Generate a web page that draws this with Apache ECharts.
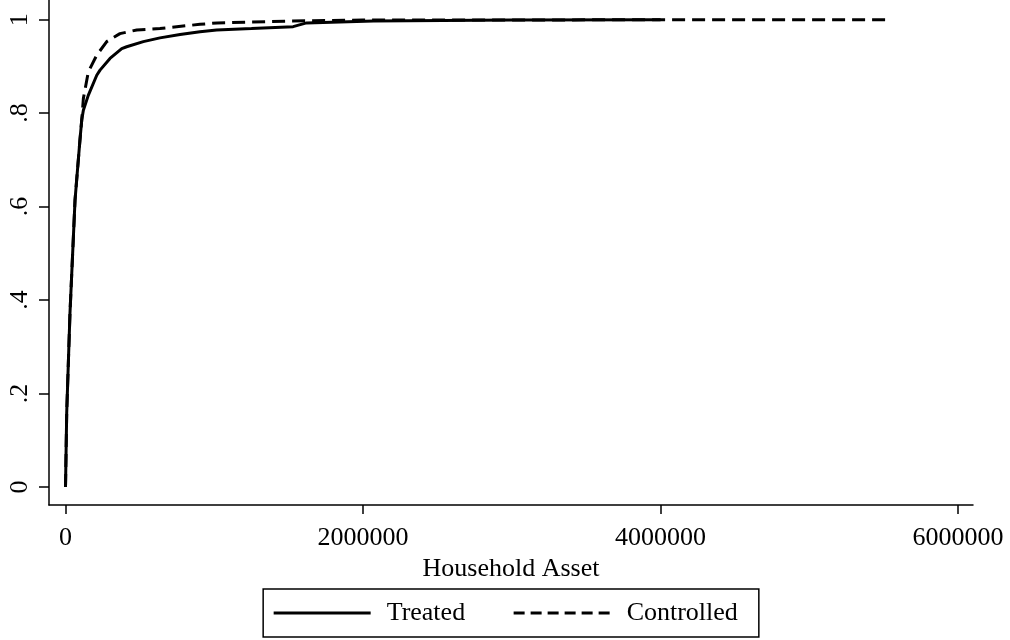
<!DOCTYPE html>
<html>
<head>
<meta charset="utf-8">
<script src="https://cdn.jsdelivr.net/npm/echarts@6/dist/echarts.min.js"></script>
<style>
  html, body { margin: 0; padding: 0; background: #fff; }
  #chart { width: 1010px; height: 640px; }
</style>
</head>
<body>
<div id="chart"></div>
<script>
// Cumulative distribution of household assets, treated vs controlled groups
const treatedAsset = [0, 8000, 30000, 64000, 75000, 97000, 109000, 120000, 153000, 210000, 232000, 299000, 378000, 411000, 523000, 635000, 770000, 904000, 1016000, 1250000, 1530000, 1620000, 2070000, 3000000, 4000000];
const treatedShare = [0, 0.158, 0.372, 0.614, 0.657, 0.742, 0.785, 0.806, 0.838, 0.881, 0.892, 0.917, 0.938, 0.942, 0.953, 0.961, 0.968, 0.974, 0.978, 0.981, 0.985, 0.993, 0.997, 0.999, 1.0];

const controlledAsset = [0, 8000, 30000, 64000, 75000, 97000, 109000, 120000, 153000, 210000, 277000, 366000, 479000, 635000, 904000, 1020000, 1510000, 2000000, 3000000, 4000000, 5510000];
const controlledShare = [0, 0.158, 0.372, 0.614, 0.657, 0.742, 0.785, 0.831, 0.888, 0.924, 0.953, 0.970, 0.978, 0.981, 0.990, 0.993, 0.997, 0.999, 0.999, 1.0, 1.0];

const xTickValues = [0, 2000000, 4000000, 6000000];
const xTickLabels = ['0', '2000000', '4000000', '6000000'];
const yTickValues = [0, 0.2, 0.4, 0.6, 0.8, 1];
const yTickLabels = ['0', '.2', '.4', '.6', '.8', '1'];

const seriesNames = ['Treated', 'Controlled'];
const xAxisTitle = 'Household Asset';

const pairs = (xs, ys) => xs.map((x, i) => [x, ys[i]]);
const labelFor = (values, labels) => (v) => {
  const i = values.findIndex((t) => Math.abs(t - v) < 1e-9);
  return i >= 0 ? labels[i] : '';
};

const FONT = '"Liberation Serif", "DejaVu Serif", serif';
const chart = echarts.init(document.getElementById('chart'), null, { renderer: 'canvas' });

chart.setOption({
  animation: false,
  backgroundColor: '#fff',
  textStyle: { fontFamily: FONT, color: '#000' },
  grid: { left: 49, right: 37, top: 0, bottom: 135, containLabel: false },
  xAxis: {
    type: 'value',
    min: -111000,
    max: 6100000,
    name: xAxisTitle,
    nameLocation: 'middle',
    nameGap: 47,
    nameTextStyle: { fontFamily: FONT, fontSize: 26, color: '#000' },
    axisLine: { show: true, onZero: false, lineStyle: { color: '#000', width: 1.5 } },
    axisTick: { show: true, length: 9, customValues: xTickValues, lineStyle: { color: '#000', width: 1.5 } },
    axisLabel: {
      show: true,
      customValues: xTickValues,
      formatter: labelFor(xTickValues, xTickLabels),
      fontFamily: FONT, fontSize: 26, color: '#000', margin: 20
    },
    splitLine: { show: false }
  },
  yAxis: {
    type: 'value',
    min: -0.0385,
    max: 1.042,
    axisLine: { show: true, onZero: false, lineStyle: { color: '#000', width: 1.5 } },
    axisTick: { show: true, length: 10, customValues: yTickValues, lineStyle: { color: '#000', width: 1.5 } },
    axisLabel: {
      show: true,
      customValues: yTickValues,
      formatter: labelFor(yTickValues, yTickLabels),
      rotate: 90,
      fontFamily: FONT, fontSize: 26, color: '#000', margin: 16
    },
    splitLine: { show: false }
  },
  legend: {
    show: true,
    bottom: 3,
    left: 'center',
    orient: 'horizontal',
    itemWidth: 97,
    itemHeight: 12,
    itemGap: 47,
    padding: [11, 21, 11, 9],
    borderColor: '#000',
    borderWidth: 1.5,
    itemStyle: { opacity: 0 },
    textStyle: { fontFamily: FONT, fontSize: 26, color: '#000', padding: [0, 0, 0, 11] },
    data: [
      { name: seriesNames[0], lineStyle: { type: 'solid', width: 3 } },
      { name: seriesNames[1], lineStyle: { type: [11, 6], width: 3 } }
    ]
  },
  series: [
    {
      name: seriesNames[0],
      type: 'line',
      data: pairs(treatedAsset, treatedShare),
      symbol: 'none',
      smooth: false,
      lineStyle: { color: '#000', width: 3, type: 'solid' },
      itemStyle: { color: '#000' },
      z: 3
    },
    {
      name: seriesNames[1],
      type: 'line',
      data: pairs(controlledAsset, controlledShare),
      symbol: 'none',
      smooth: false,
      lineStyle: { color: '#000', width: 3, type: [13, 7] },
      itemStyle: { color: '#000' },
      z: 2
    }
  ]
});
</script>
</body>
</html>
